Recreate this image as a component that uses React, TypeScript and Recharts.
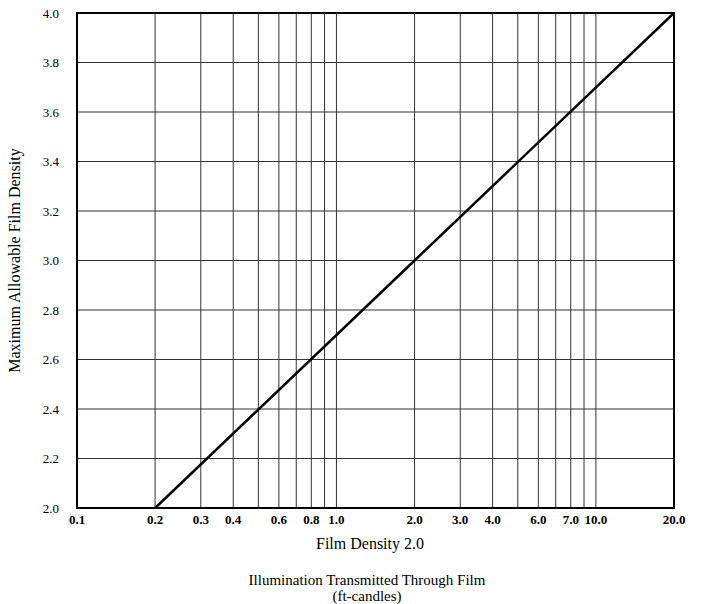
import { CartesianGrid, Line, LineChart, ReferenceArea, ReferenceLine, XAxis, YAxis } from 'recharts';

const densityLine = [
  { illumination: 0.2, density: 2.0 },
  { illumination: 2.0, density: 3.0 },
  { illumination: 20.0, density: 4.0 },
];

const xTickValues = [0.1, 0.2, 0.3, 0.4, 0.6, 0.8, 1, 2, 3, 4, 6, 8, 10, 20];
const xTickLabels = ['0.1', '0.2', '0.3', '0.4', '0.6', '0.8', '1.0', '2.0', '3.0', '4.0', '6.0', '7.0', '10.0', '20.0'];
const xGridValues = [0.2, 0.3, 0.4, 0.5, 0.6, 0.7, 0.8, 0.9, 1, 2, 3, 4, 5, 6, 7, 8, 9, 10];
const yTickValues = [2.0, 2.2, 2.4, 2.6, 2.8, 3.0, 3.2, 3.4, 3.6, 3.8, 4.0];

const serif = '"Liberation Serif", "Times New Roman", serif';

export default function App() {
  return (
    <div style={{ position: 'absolute', left: 0, top: 0, width: 701, height: 604, background: '#fff', fontFamily: serif }}>
      <LineChart width={701} height={604} data={densityLine} margin={{ top: 13, right: 27, bottom: 66, left: 0 }}>
        <CartesianGrid vertical={false} stroke="#333" strokeWidth={1} />
        {xGridValues.map((v) => (
          <ReferenceLine key={v} x={v} stroke="#333" strokeWidth={1} />
        ))}
        <ReferenceArea x1={0.1} x2={20} y1={2} y2={4} fill="none" stroke="#000" strokeWidth={2} ifOverflow="visible" />
        <XAxis
          dataKey="illumination"
          type="number"
          scale="log"
          domain={[0.1, 20]}
          ticks={xTickValues}
          interval={0}
          allowDataOverflow
          height={30}
          tickFormatter={(v: number) => xTickLabels[xTickValues.indexOf(v)] ?? String(v)}
          tickLine={false}
          axisLine={{ stroke: '#000', strokeWidth: 2 }}
          tick={{ fill: '#000', fontSize: 13, fontWeight: 'bold', fontFamily: serif }}
          tickMargin={1}
        />
        <YAxis
          dataKey="density"
          type="number"
          domain={[2, 4]}
          ticks={yTickValues}
          interval={0}
          width={77}
          tickFormatter={(v: number) => v.toFixed(1)}
          tickLine={false}
          axisLine={{ stroke: '#000', strokeWidth: 2 }}
          tick={{ fill: '#000', fontSize: 13, fontFamily: serif }}
          tickMargin={12}
          label={{
            value: 'Maximum Allowable Film Density',
            angle: -90,
            position: 'insideLeft',
            offset: 14,
            style: { textAnchor: 'middle', fill: '#000', fontSize: 16, fontFamily: serif },
          }}
        />
        <Line
          type="linear"
          dataKey="density"
          stroke="#000"
          strokeWidth={2.5}
          dot={false}
          isAnimationActive={false}
        />
      </LineChart>
      <div style={{ position: 'absolute', left: 0, width: 740, top: 535, textAlign: 'center', fontSize: 16 }}>
        Film Density 2.0
      </div>
      <div style={{ position: 'absolute', left: 0, width: 734, top: 572, textAlign: 'center', fontSize: 15, lineHeight: '16px' }}>
        Illumination Transmitted Through Film
        <br />
        (ft-candles)
      </div>
    </div>
  );
}
